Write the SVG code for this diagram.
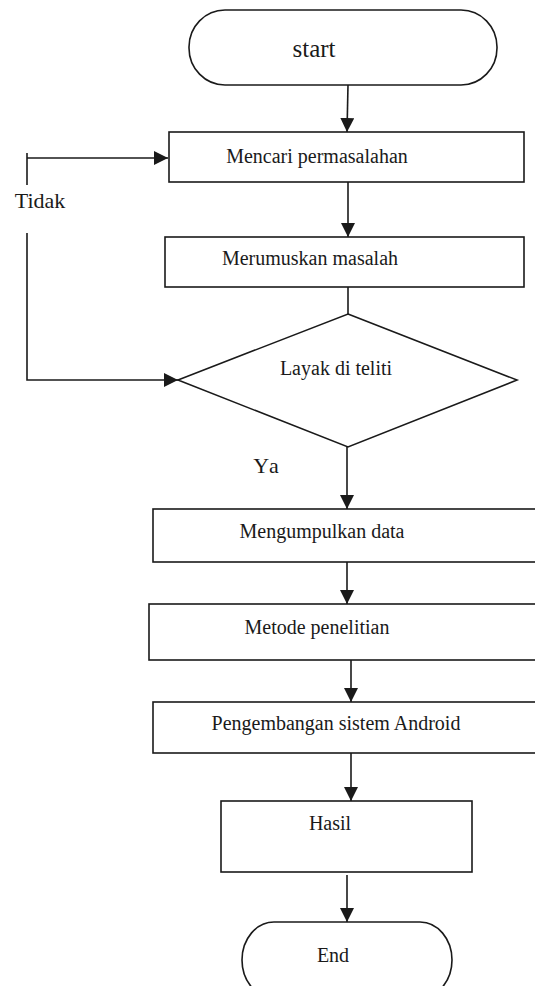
<svg xmlns="http://www.w3.org/2000/svg" width="535" height="986" viewBox="0 0 535 986">
<style>
  .shape { fill: #ffffff; stroke: #1a1a1a; stroke-width: 1.6; }
  .conn { fill: none; stroke: #1a1a1a; stroke-width: 1.6; }
  .lbl { font-family: "Liberation Serif", "Times New Roman", serif; font-size: 20px; fill: #1a1a1a; text-anchor: middle; }
</style>
<defs>
  <marker id="arrow" markerUnits="userSpaceOnUse" markerWidth="16" markerHeight="14" refX="14" refY="7" orient="auto">
    <path d="M0,0 L14,7 L0,14 Z" fill="#1a1a1a"/>
  </marker>
</defs>
<rect width="535" height="986" fill="#ffffff"/>

<g id="connectors">
  <line class="conn" x1="348" y1="85" x2="347" y2="132" marker-end="url(#arrow)"/>
  <line class="conn" x1="348" y1="182" x2="348" y2="237" marker-end="url(#arrow)"/>
  <line class="conn" x1="348" y1="287" x2="348" y2="314"/>
  <polyline class="conn" points="27,153 27,185"/>
  <line class="conn" x1="27" y1="158" x2="168" y2="158" marker-end="url(#arrow)"/>
  <polyline class="conn" points="27,233 27,380 178,380" marker-end="url(#arrow)"/>
  <line class="conn" x1="347" y1="447" x2="347" y2="509" marker-end="url(#arrow)"/>
  <line class="conn" x1="347" y1="562" x2="347" y2="604" marker-end="url(#arrow)"/>
  <line class="conn" x1="351" y1="660" x2="351" y2="702" marker-end="url(#arrow)"/>
  <line class="conn" x1="351" y1="753" x2="351" y2="801" marker-end="url(#arrow)"/>
  <line class="conn" x1="347" y1="875" x2="347" y2="922" marker-end="url(#arrow)"/>
  <text class="lbl" x="40" y="208" font-size="22" style="font-size:22px">Tidak</text>
  <text class="lbl" x="267" y="473" style="font-size:22px;letter-spacing:2px">Ya</text>
</g>

<g id="start">
  <rect class="shape" x="189" y="10" width="308" height="75" rx="36" ry="37"/>
  <text class="lbl" x="314" y="57" style="font-size:25px">start</text>
</g>

<g id="mencari">
  <rect class="shape" x="169" y="132" width="355" height="50"/>
  <text class="lbl" x="317" y="163">Mencari permasalahan</text>
</g>

<g id="merumuskan">
  <rect class="shape" x="165" y="237" width="359" height="50"/>
  <text class="lbl" x="310" y="265">Merumuskan masalah</text>
</g>

<g id="layak">
  <polygon class="shape" points="348,314 517,380 348,447 178,380"/>
  <text class="lbl" x="336" y="375">Layak di teliti</text>
</g>

<g id="mengumpulkan">
  <rect class="shape" x="153" y="509" width="400" height="53"/>
  <text class="lbl" x="322" y="538">Mengumpulkan data</text>
</g>

<g id="metode">
  <rect class="shape" x="149" y="604" width="404" height="56"/>
  <text class="lbl" x="317" y="634">Metode penelitian</text>
</g>

<g id="pengembangan">
  <rect class="shape" x="153" y="702" width="400" height="51"/>
  <text class="lbl" x="336" y="730">Pengembangan sistem Android</text>
</g>

<g id="hasil">
  <rect class="shape" x="221" y="801" width="251" height="71"/>
  <text class="lbl" x="330" y="830">Hasil</text>
</g>

<g id="end">
  <rect class="shape" x="242" y="922" width="210" height="76" rx="32" ry="38"/>
  <text class="lbl" x="333" y="962">End</text>
</g>
</svg>
